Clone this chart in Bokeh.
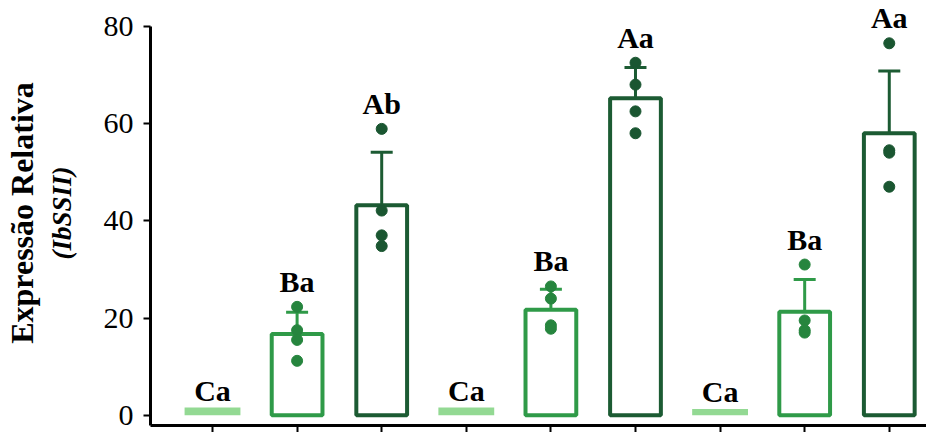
import numpy as np
from bokeh.plotting import figure
from bokeh.models import Range1d, LinearAxis, FixedTicker, Whisker, Label
from bokeh.embed import file_html
from bokeh.resources import INLINE

# ---- data ----
labels = ["Ca", "Ba", "Ab", "Ca", "Ba", "Aa", "Ca", "Ba", "Aa"]
means = [1.6, 16.7, 43.2, 1.6, 21.7, 65.2, 1.3, 21.3, 58.0]
sds = [0.0, 4.5, 10.9, 0.0, 4.2, 6.3, 0.0, 6.6, 12.8]
reps = [
    [],
    [22.3, 17.5, 15.5, 11.2],
    [58.9, 42.1, 37.0, 34.8],
    [],
    [26.5, 24.0, 18.5, 17.8],
    [72.5, 68.0, 62.5, 58.0],
    [],
    [31.0, 19.5, 17.5, 17.0],
    [76.5, 54.5, 54.0, 47.0],
]
level = ["control", "mid", "high"] * 3
yticks = [0, 20, 40, 60, 80]

bar_line = {"control": "#93d993", "mid": "#2f9a48", "high": "#1c5b33"}
bar_fill = {"control": "#93d993", "mid": "white", "high": "white"}
pt_col = {"control": "#93d993", "mid": "#26853e", "high": "#1a5631"}

FONT = "Liberation Serif"
x = np.arange(len(means))
Y0, Y1 = -2.1, 85.3

p = figure(frame_width=776, frame_height=425, output_backend="svg", toolbar_location=None,
           x_range=Range1d(-0.733, 8.44), y_range=Range1d(Y0, Y1),
           min_border_left=148, min_border_right=0, min_border_top=0, min_border_bottom=0)
p.outline_line_color = None
p.grid.grid_line_color = None
p.background_fill_color = "white"

# bars
ctrl = [i for i in x if level[i] == "control"]
other = [i for i in x if level[i] != "control"]
p.vbar(x=[x[i] for i in ctrl], top=[means[i] for i in ctrl], bottom=0, width=0.66,
       fill_color=bar_fill["control"], line_color=None)
p.vbar(x=[x[i] for i in other], top=[means[i] for i in other], bottom=0, width=0.6,
       fill_color=[bar_fill[level[i]] for i in other],
       line_color=[bar_line[level[i]] for i in other], line_width=4)

# error bars
for i in other:
    c = bar_line[level[i]]
    w = Whisker(base=x[i], lower=means[i] - sds[i], upper=means[i] + sds[i],
                dimension="height", line_color=c, line_width=3)
    for h in (w.upper_head, w.lower_head):
        h.size = 22
        h.line_color = c
        h.line_width = 3
    p.add_layout(w)

# replicate points
px, py, pc = [], [], []
for i in x:
    for v in reps[i]:
        px.append(x[i]); py.append(v); pc.append(pt_col[level[i]])
p.scatter(px, py, size=11, fill_color=pc, line_color=pc)

# significance letters
tops = [max([means[i] + sds[i]] + reps[i]) for i in x]
for i in x:
    off = 1 if level[i] == "control" else 9
    p.add_layout(Label(x=x[i], y=tops[i], text=labels[i], text_align="center",
                       text_baseline="bottom", y_offset=off,
                       text_font=FONT, text_font_style="bold", text_font_size="30px",
                       text_color="black"))

# axes
p.xaxis.ticker = FixedTicker(ticks=list(x))
p.xaxis.major_label_overrides = {int(i): "" for i in x}
p.xaxis.major_label_standoff = 0
p.xaxis.axis_line_width = 3
p.xaxis.axis_line_color = "black"
p.xaxis.major_tick_line_width = 2
p.xaxis.major_tick_line_color = "black"
p.xaxis.major_tick_in = 0
p.xaxis.major_tick_out = 7
p.xaxis.minor_tick_line_color = None

p.yaxis.ticker = FixedTicker(ticks=yticks)
p.yaxis.bounds = (Y0, 80)
p.yaxis.axis_line_width = 3
p.yaxis.axis_line_color = "black"
p.yaxis.major_tick_line_width = 2
p.yaxis.major_tick_line_color = "black"
p.yaxis.major_tick_in = 0
p.yaxis.major_tick_out = 7
p.yaxis.minor_tick_line_color = None
p.yaxis.major_label_text_font = FONT
p.yaxis.major_label_text_font_size = "30px"
p.yaxis.major_label_text_color = "black"
p.yaxis.major_label_standoff = 10
p.yaxis.axis_label = "(IbSSII)"
p.yaxis.axis_label_text_font = FONT
p.yaxis.axis_label_text_font_style = "bold italic"
p.yaxis.axis_label_text_font_size = "27px"
p.yaxis.axis_label_text_color = "black"
p.yaxis.axis_label_standoff = 24

outer = LinearAxis(ticker=FixedTicker(ticks=[]), axis_line_color=None,
                   major_tick_line_color=None, minor_tick_line_color=None,
                   axis_label="Expressão Relativa", axis_label_text_font=FONT,
                   axis_label_text_font_style="bold", axis_label_text_font_size="32px",
                   axis_label_text_color="black", axis_label_standoff=4)
p.add_layout(outer, "left")

open("out.html", "w").write(file_html(p, INLINE))
